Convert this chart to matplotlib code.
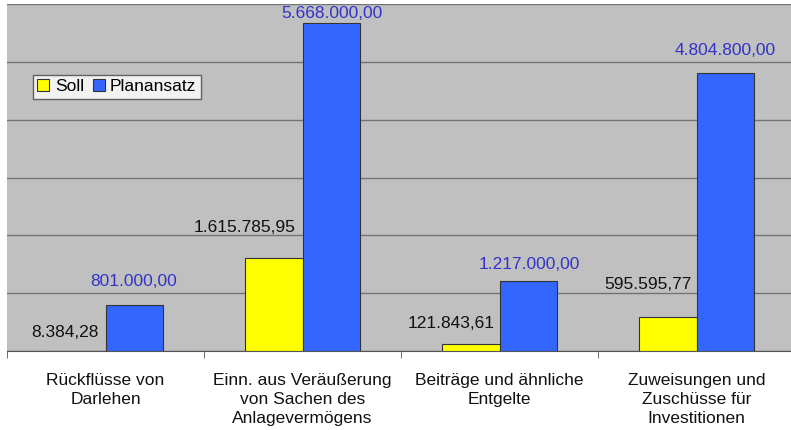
import matplotlib
matplotlib.use("Agg")
import matplotlib.pyplot as plt
import numpy as np

categories = ["Rückflüsse von\nDarlehen",
              "Einn. aus Veräußerung\nvon Sachen des\nAnlagevermögens",
              "Beiträge und ähnliche\nEntgelte",
              "Zuweisungen und\nZuschüsse für\nInvestitionen"]
soll = [8384.28, 1615785.95, 121843.61, 595595.77]
plan = [801000.00, 5668000.00, 1217000.00, 4804800.00]
series_names = ["Soll", "Planansatz"]

# label offsets in pixels (style only)
soll_off = [(-12, 18), (-29, 30), (-20, 20), (-20, 32)]
plan_off = [(0, 23), (1, 10), (1, 16), (0, 23)]

def de_fmt(v):
    s = f"{v:,.2f}"
    return s.replace(",", "X").replace(".", ",").replace("X", ".")

plt.rcParams['font.family'] = ['Liberation Sans', 'DejaVu Sans']

W, H = 791, 430
fig = plt.figure(figsize=(W/100, H/100), dpi=100)
fig.patch.set_facecolor('white')
ax = fig.add_axes([7/W, 79/H, 788/W, 347/H])
ax.set_facecolor('#C0C0C0')

x = np.arange(len(categories))
bw = 0.29
ax.bar(x - bw/2, soll, bw, color='#FFFF00', edgecolor='#333333', linewidth=0.8, label=series_names[0], zorder=3)
ax.bar(x + bw/2, plan, bw, color='#3366FF', edgecolor='#333333', linewidth=0.8, label=series_names[1], zorder=3)

ax.set_xlim(-0.5, 3.5)
ax.set_ylim(0, 6000000)
ax.set_yticks(np.arange(0, 6000001, 1000000))
ax.yaxis.grid(True, color='#747474', linewidth=1.0, zorder=0)
ax.tick_params(axis='y', left=False, labelleft=False)

ax.set_xticks(x)
ax.set_xticklabels(categories, fontsize=12.5, linespacing=1.34, color='#111111')
ax.tick_params(axis='x', length=0, pad=16)
ax.set_xticks(np.arange(-0.5, 4.0, 1.0), minor=True)
ax.tick_params(axis='x', which='minor', length=5, color='#555555', direction='out')

for s in ['top', 'right', 'left']:
    ax.spines[s].set_visible(False)
ax.spines['bottom'].set_color('#555555')

for xi, v, (dx, dy) in zip(x, soll, soll_off):
    ax.annotate(de_fmt(v), (xi - bw/2, v), xytext=(dx, dy), textcoords='offset pixels',
                ha='center', va='center', fontsize=12.5, color='#111111', zorder=4)
for xi, v, (dx, dy) in zip(x, plan, plan_off):
    ax.annotate(de_fmt(v), (xi + bw/2, v), xytext=(dx, dy), textcoords='offset pixels',
                ha='center', va='center', fontsize=12.5, color='#3333CC', zorder=4)

leg = ax.legend(loc='upper left', bbox_to_anchor=(26/788, (351-75)/347), ncol=2,
                fontsize=12.5, frameon=True, fancybox=False, edgecolor='#444444',
                handlelength=0.7, handleheight=0.7, handletextpad=0.3, columnspacing=0.5,
                borderpad=0.25, borderaxespad=0)
leg.get_frame().set_linewidth(1.0)

fig.savefig("out.png", dpi=100)
